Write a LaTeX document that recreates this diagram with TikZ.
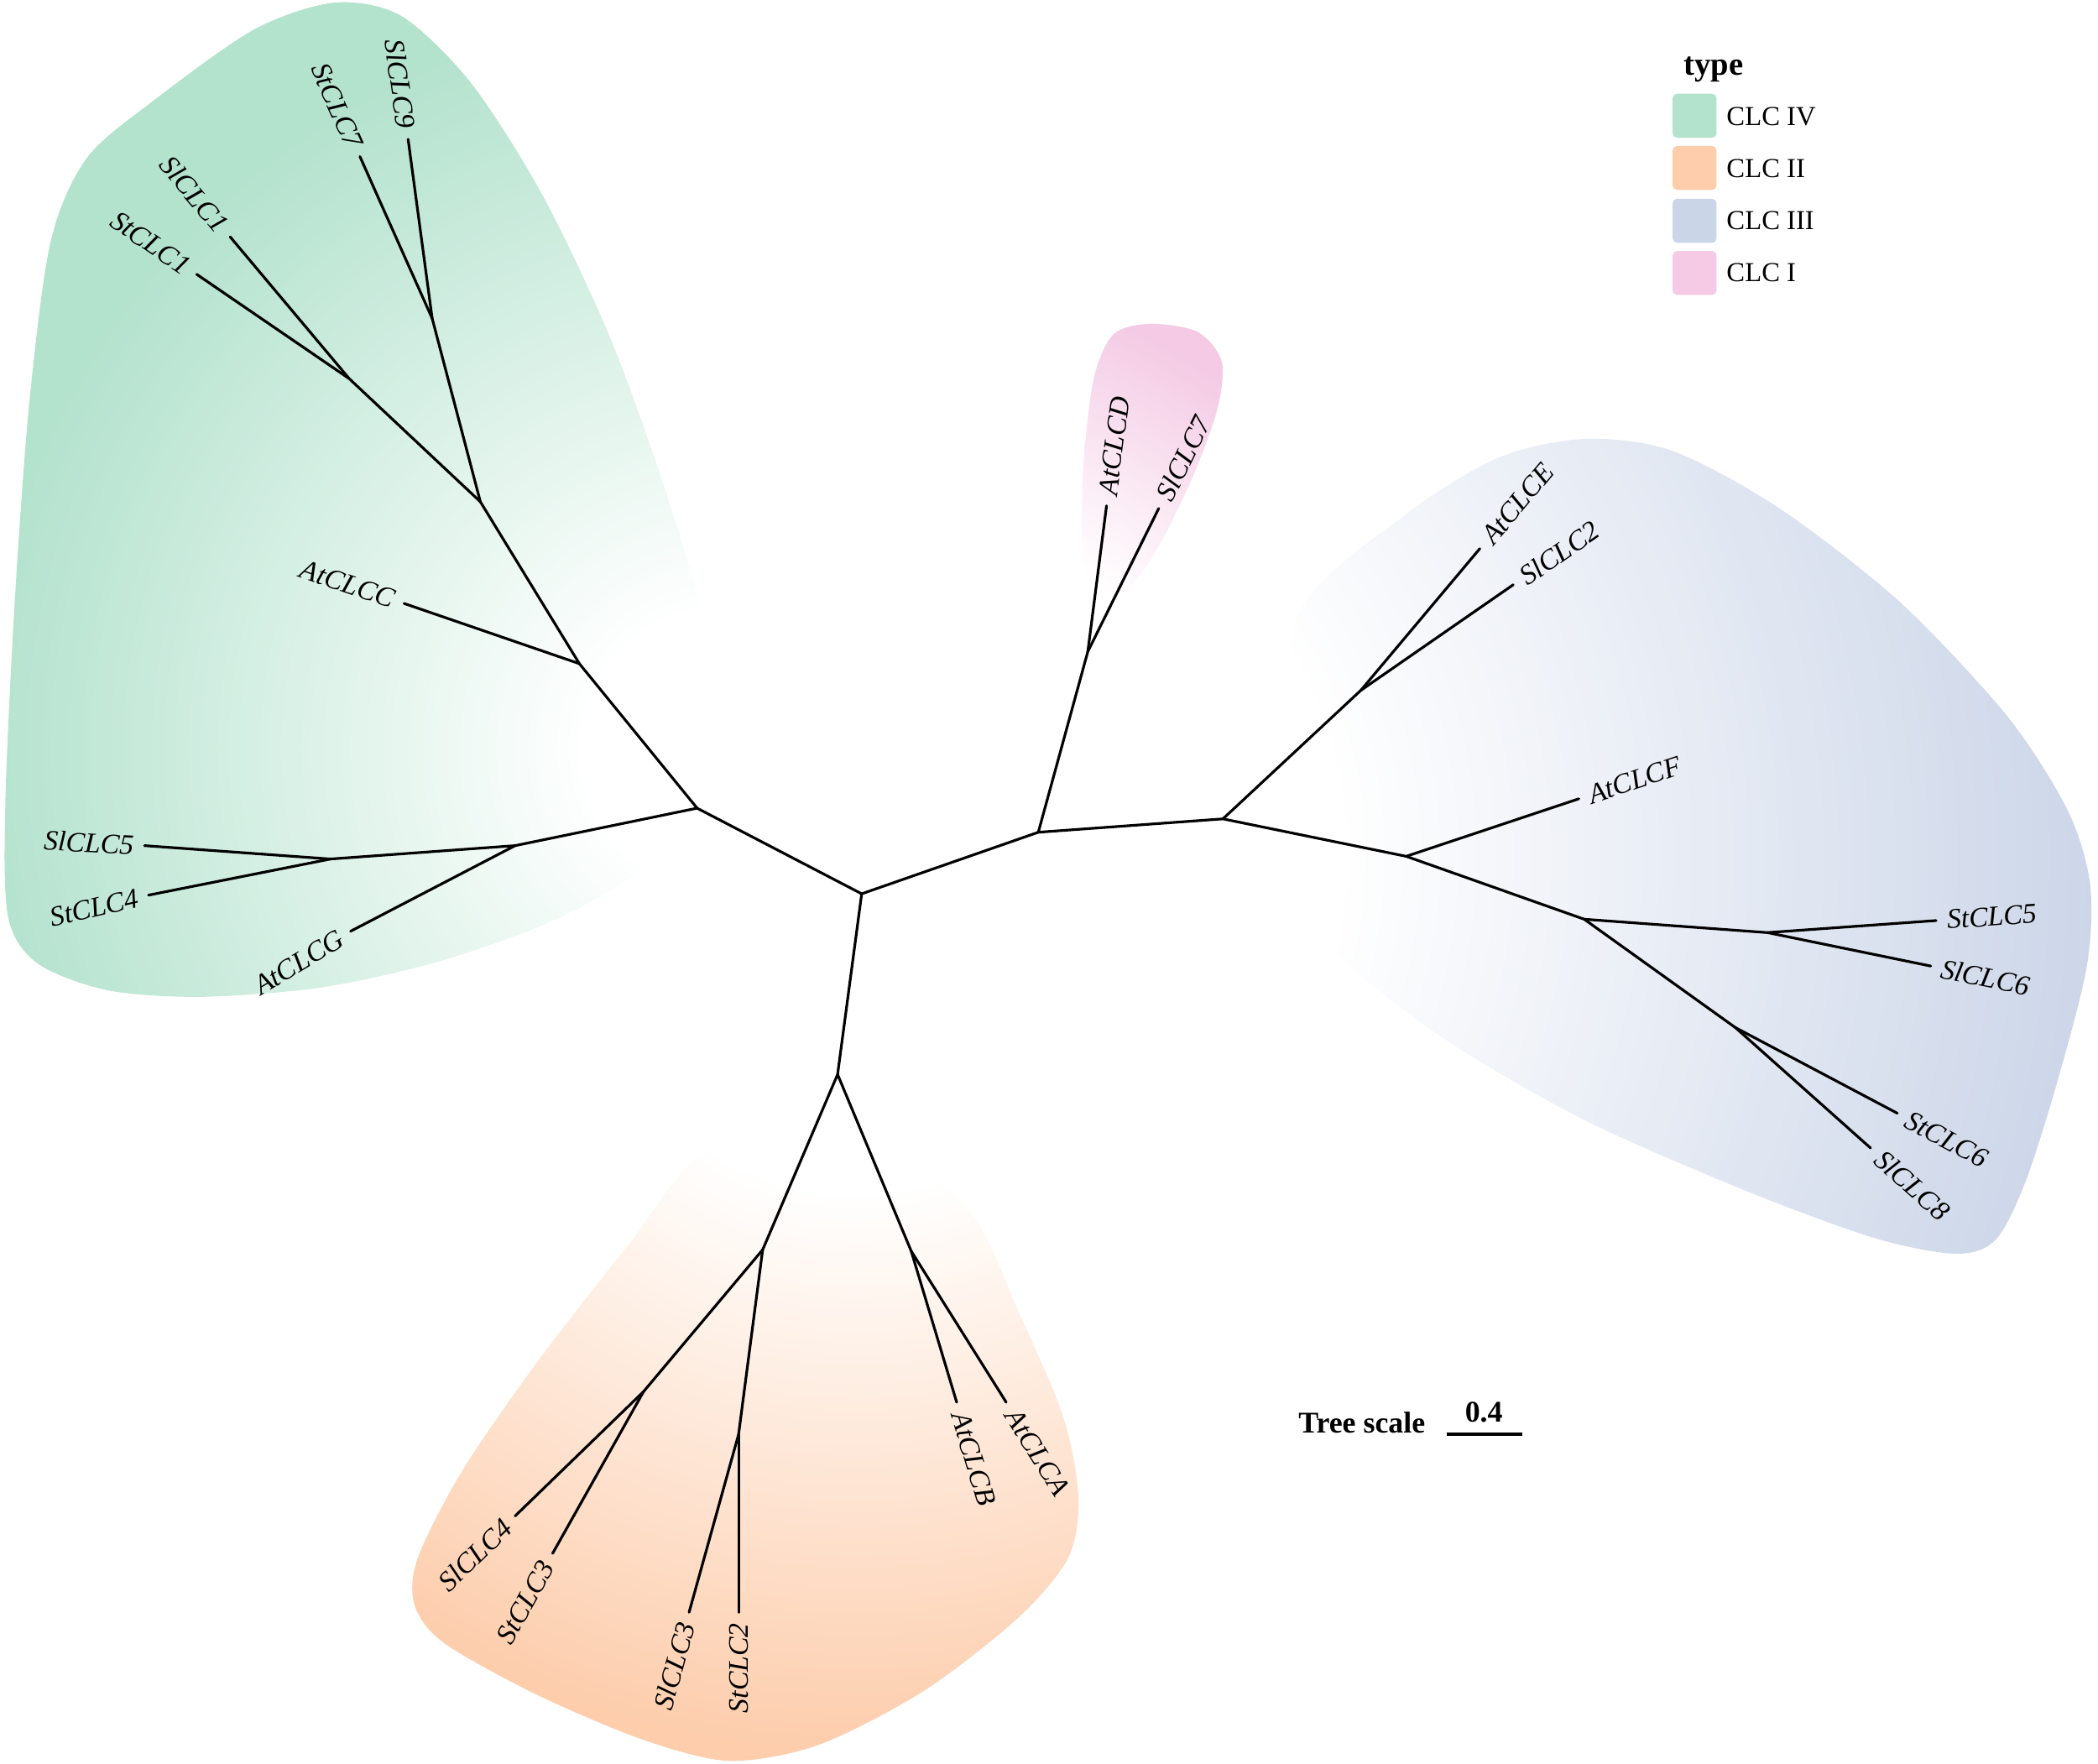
\documentclass[tikz,border=0pt]{standalone}
\usepackage{fontspec}
\setmainfont{Liberation Serif}
\definecolor{clcG}{HTML}{B3E2CD}
\definecolor{clcO}{HTML}{FDCDAC}
\definecolor{clcB}{HTML}{CBD5E8}
\definecolor{clcP}{HTML}{F4CAE4}
\pgfdeclareradialshading{shadeG}{\pgfpoint{0bp}{0bp}}{color(0bp)=(white); color(2.5bp)=(white); color(14bp)=(clcG); color(50bp)=(clcG)}
\pgfdeclareradialshading{shadeO}{\pgfpoint{0bp}{0bp}}{color(0bp)=(white); color(5bp)=(white); color(15.5bp)=(clcO); color(50bp)=(clcO)}
\pgfdeclareradialshading{shadeB}{\pgfpoint{0bp}{0bp}}{color(0bp)=(white); color(7.5bp)=(white); color(22bp)=(clcB); color(50bp)=(clcB)}
\pgfdeclareradialshading{shadeP}{\pgfpoint{0bp}{0bp}}{color(0bp)=(white); color(7.25bp)=(white); color(11.75bp)=(clcP); color(50bp)=(clcP)}
\tikzset{
  br/.style={line width=0.9pt, line cap=round},
  lab/.style={font=\fontsize{9.6}{11}\selectfont\itshape, inner xsep=3.5pt, inner ysep=1pt},
  lw/.style={lab, anchor=west},
  le/.style={lab, anchor=east},
  legbox/.style={rounded corners=1.5pt, minimum size=14.9pt, inner sep=0pt, draw=none},
  legtext/.style={font=\fontsize{9.3}{11}\selectfont, anchor=west, inner sep=0pt},
}
\begin{document}
\begin{tikzpicture}[x=0.015944cm,y=-0.015944cm]
\useasboundingbox (0,0) rectangle (1568,1318);

% ---------- clade backgrounds ----------
\begin{scope}
\clip plot[smooth cycle] coordinates {(530,480) (495,360) (455,250) (405,145) (352,62) (300,12) (250,2) (190,22) (115,75) (65,118) (38,180) (22,300) (11,450) (4,600) (6,685) (28,720) (80,740) (150,745) (240,738) (330,718) (420,685) (490,640) (530,560)};
\shade[shading=shadeG] (540,560) circle (1000);
\end{scope}
\begin{scope}
\clip plot[smooth cycle] coordinates {(530,860) (470,930) (400,1020) (345,1100) (312,1165) (310,1200) (332,1228) (400,1266) (480,1300) (545,1316) (612,1304) (690,1264) (760,1210) (798,1165) (806,1120) (795,1060) (762,982) (722,902) (640,850)};
\shade[shading=shadeO] (640,690) circle (1000);
\end{scope}
\begin{scope}
\clip plot[smooth cycle] coordinates {(970,460) (1050,385) (1120,342) (1185,328) (1250,337) (1330,380) (1420,450) (1500,535) (1545,605) (1562,660) (1560,720) (1540,800) (1515,880) (1492,926) (1462,937) (1400,925) (1300,888) (1180,835) (1070,770) (990,700) (960,600)};
\shade[shading=shadeB] (700,640) circle (1000);
\end{scope}
\begin{scope}
\clip plot[smooth cycle] coordinates {(812,432) (809,360) (817,285) (832,250) (860,242) (895,248) (913,270) (910,305) (892,355) (865,410) (840,442)};
\shade[shading=shadeP] (644,668) circle (1000);
\end{scope}

% ---------- internal nodes ----------
\coordinate (C0) at (644,668);
\coordinate (J1) at (521,604);
\coordinate (J2) at (433,496);
\coordinate (J3) at (359,375);
\coordinate (J97) at (323,238);
\coordinate (J11) at (261,283);
\coordinate (J4) at (385,632);
\coordinate (J5) at (247,642);
\coordinate (J6) at (626,803);
\coordinate (J8) at (570,934);
\coordinate (J9) at (681,935);
\coordinate (J10) at (481,1040);
\coordinate (J11b) at (552,1072);
\coordinate (J7) at (776,622);
\coordinate (J13) at (813,487);
\coordinate (J12) at (914,612);
\coordinate (J14) at (1017,516);
\coordinate (J15) at (1051,640);
\coordinate (J16) at (1184,687);
\coordinate (J17) at (1321,697);
\coordinate (J18) at (1297,768);

% ---------- leaf tips ----------
\coordinate (tSlCLC9) at (305,104);
\coordinate (tStCLC7) at (269,117);
\coordinate (tSlCLC1) at (172,177);
\coordinate (tStCLC1) at (147,205);
\coordinate (tAtCLCC) at (302,451);
\coordinate (tSlCLC5) at (108,632);
\coordinate (tStCLC4) at (111,669);
\coordinate (tAtCLCG) at (262,696);
\coordinate (tAtCLCB) at (715,1048);
\coordinate (tAtCLCA) at (752,1048);
\coordinate (tSlCLC4) at (385,1133);
\coordinate (tStCLC3) at (413,1161);
\coordinate (tSlCLC3) at (515,1205);
\coordinate (tStCLC2) at (552,1205);
\coordinate (tAtCLCD) at (827,378);
\coordinate (tSlCLC7) at (866,380);
\coordinate (tAtCLCE) at (1106,410);
\coordinate (tSlCLC2) at (1131,437);
\coordinate (tAtCLCF) at (1180,597);
\coordinate (tStCLC5) at (1447,688);
\coordinate (tSlCLC6) at (1443,722);
\coordinate (tStCLC6) at (1418,832);
\coordinate (tSlCLC8) at (1398,858);

% ---------- branches ----------
\draw[br] (C0) -- (J1);
\draw[br] (J1) -- (J2);
\draw[br] (J2) -- (J3);
\draw[br] (J3) -- (J97);
\draw[br] (J3) -- (J11);
\draw[br] (J97) -- (tSlCLC9);
\draw[br] (J97) -- (tStCLC7);
\draw[br] (J11) -- (tSlCLC1);
\draw[br] (J11) -- (tStCLC1);
\draw[br] (J2) -- (tAtCLCC);
\draw[br] (J1) -- (J4);
\draw[br] (J4) -- (J5);
\draw[br] (J5) -- (tSlCLC5);
\draw[br] (J5) -- (tStCLC4);
\draw[br] (J4) -- (tAtCLCG);
\draw[br] (C0) -- (J6);
\draw[br] (J6) -- (J8);
\draw[br] (J6) -- (J9);
\draw[br] (J9) -- (tAtCLCB);
\draw[br] (J9) -- (tAtCLCA);
\draw[br] (J8) -- (J10);
\draw[br] (J8) -- (J11b);
\draw[br] (J10) -- (tSlCLC4);
\draw[br] (J10) -- (tStCLC3);
\draw[br] (J11b) -- (tSlCLC3);
\draw[br] (J11b) -- (tStCLC2);
\draw[br] (C0) -- (J7);
\draw[br] (J7) -- (J13);
\draw[br] (J13) -- (tAtCLCD);
\draw[br] (J13) -- (tSlCLC7);
\draw[br] (J7) -- (J12);
\draw[br] (J12) -- (J14);
\draw[br] (J14) -- (tAtCLCE);
\draw[br] (J14) -- (tSlCLC2);
\draw[br] (J12) -- (J15);
\draw[br] (J15) -- (tAtCLCF);
\draw[br] (J15) -- (J16);
\draw[br] (J16) -- (J17);
\draw[br] (J17) -- (tStCLC5);
\draw[br] (J17) -- (tSlCLC6);
\draw[br] (J16) -- (J18);
\draw[br] (J18) -- (tStCLC6);
\draw[br] (J18) -- (tSlCLC8);

% ---------- leaf labels ----------
\node[le, rotate=-82.1] (lSlCLC9) at (tSlCLC9) {SlCLC9};
\node[le, rotate=-66.0] (lStCLC7) at (tStCLC7) {StCLC7};
\node[le, rotate=-50.0] (lSlCLC1) at (tSlCLC1) {SlCLC1};
\node[le, rotate=-34.4] (lStCLC1) at (tStCLC1) {StCLC1};
\node[le, rotate=-19.0] (lAtCLCC) at (tAtCLCC) {AtCLCC};
\node[le, rotate=-3.0] (lSlCLC5) at (tSlCLC5) {SlCLC5};
\node[le, rotate=13.0] (lStCLC4) at (tStCLC4) {StCLC4};
\node[le, rotate=31.0] (lAtCLCG) at (tAtCLCG) {AtCLCG};
\node[lw, rotate=-73.3] (lAtCLCB) at (tAtCLCB) {AtCLCB};
\node[lw, rotate=-57.9] (lAtCLCA) at (tAtCLCA) {AtCLCA};
\node[le, rotate=44.1] (lSlCLC4) at (tSlCLC4) {SlCLC4};
\node[le, rotate=60.7] (lStCLC3) at (tStCLC3) {StCLC3};
\node[le, rotate=74.5] (lSlCLC3) at (tSlCLC3) {SlCLC3};
\node[le, rotate=90] (lStCLC2) at (tStCLC2) {StCLC2};
\node[lw, rotate=82.7] (lAtCLCD) at (tAtCLCD) {AtCLCD};
\node[lw, rotate=63.6] (lSlCLC7) at (tSlCLC7) {SlCLC7};
\node[lw, rotate=50.0] (lAtCLCE) at (tAtCLCE) {AtCLCE};
\node[lw, rotate=34.7] (lSlCLC2) at (tSlCLC2) {SlCLC2};
\node[lw, rotate=18.4] (lAtCLCF) at (tAtCLCF) {AtCLCF};
\node[lw, rotate=4.1] (lStCLC5) at (tStCLC5) {StCLC5};
\node[lw, rotate=-11.6] (lSlCLC6) at (tSlCLC6) {SlCLC6};
\node[lw, rotate=-27.9] (lStCLC6) at (tStCLC6) {StCLC6};
\node[lw, rotate=-41.7] (lSlCLC8) at (tSlCLC8) {SlCLC8};

% ---------- legend ----------
\node[font=\bfseries\fontsize{11}{13}\selectfont, anchor=base west, inner sep=0pt] (legtitle) at (1258,56) {type};
\node[legbox, fill=clcG] (kG) at (1266.5,86.5) {};
\node[legbox, fill=clcO] (kO) at (1266.5,125.5) {};
\node[legbox, fill=clcB] (kB) at (1266.5,165) {};
\node[legbox, fill=clcP] (kP) at (1266.5,204) {};
\node[legtext] (tG) at (1290,87) {CLC IV};
\node[legtext] (tO) at (1290,126) {CLC II};
\node[legtext] (tB) at (1290,165) {CLC III};
\node[legtext] (tP) at (1290,204) {CLC I};

% ---------- tree scale ----------
\node[font=\bfseries\fontsize{10.2}{12}\selectfont, anchor=base west, inner sep=0pt] (tscale) at (970,1071) {Tree scale};
\coordinate (sb1) at (1081,1072);
\coordinate (sb2) at (1138,1072);
\draw[line width=1.1pt] (sb1) -- (sb2);
\node[font=\bfseries\fontsize{10.2}{12}\selectfont, anchor=base, inner sep=0pt] (sbval) at (1109,1063) {0.4};
\end{tikzpicture}
\end{document}
